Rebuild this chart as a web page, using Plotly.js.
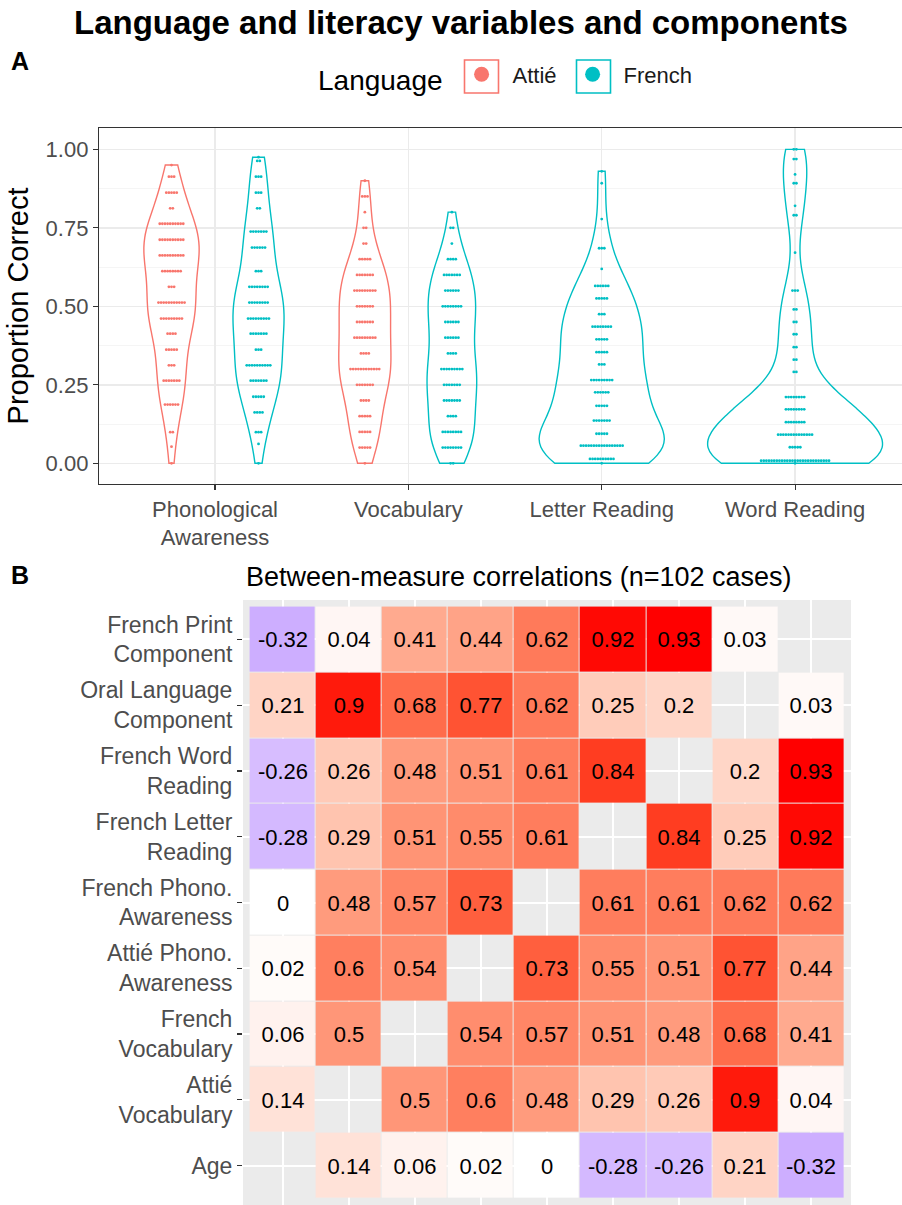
<!DOCTYPE html>
<html><head><meta charset="utf-8">
<script src="https://cdn.plot.ly/plotly-3.0.1.min.js"></script>
<style>html,body{margin:0;padding:0;background:#fff}</style>
</head><body><div id="chart" style="width:902px;height:1205px"></div>
<script>
// ---------- Panel A data ----------
const categories = ['Phonological Awareness', 'Vocabulary', 'Letter Reading', 'Word Reading'];
const categoryTicks = ['Phonological<br>Awareness', 'Vocabulary', 'Letter Reading', 'Word Reading'];
const languages = ['Attié', 'French'];
const languageColors = ['#F8766D', '#00BFC4'];

// proportion-correct levels and number of children at each level (read from the dot stacks)
const attiePAValues = [0, 0.053, 0.099, 0.187, 0.263, 0.312, 0.362, 0.413, 0.461, 0.512, 0.562, 0.612, 0.662, 0.712, 0.763, 0.812, 0.862, 0.913, 0.95];
const attiePACounts = [1, 1, 2, 6, 7, 3, 5, 4, 9, 11, 3, 8, 10, 10, 10, 2, 5, 3, 1];

const frenchPAValues = [0, 0.0615, 0.099, 0.162, 0.212, 0.263, 0.312, 0.362, 0.413, 0.461, 0.512, 0.562, 0.612, 0.687, 0.738, 0.812, 0.862, 0.913, 0.963, 0.975];
const frenchPACounts = [1, 1, 3, 4, 5, 7, 10, 3, 7, 9, 8, 8, 3, 6, 7, 2, 3, 3, 2, 1];

const attieVocabValues = [0, 0.05, 0.10, 0.15, 0.20, 0.25, 0.30, 0.35, 0.40, 0.45, 0.50, 0.55, 0.60, 0.65, 0.70, 0.75, 0.80, 0.85, 0.90];
const attieVocabCounts = [1, 5, 5, 5, 4, 7, 12, 4, 9, 7, 7, 9, 7, 5, 2, 2, 1, 3, 1];

const frenchVocabValues = [0, 0.05, 0.10, 0.15, 0.20, 0.25, 0.30, 0.35, 0.40, 0.45, 0.50, 0.55, 0.60, 0.65, 0.70, 0.75, 0.80];
const frenchVocabCounts = [2, 8, 8, 4, 7, 7, 9, 4, 6, 6, 8, 6, 7, 4, 1, 2, 1];

const frenchLetterValues = [0, 0.014, 0.056, 0.094, 0.136, 0.183, 0.226, 0.265, 0.315, 0.354, 0.395, 0.435, 0.475, 0.525, 0.565, 0.619, 0.685, 0.778, 0.892, 0.93];
const frenchLetterCounts = [1, 10, 17, 5, 7, 5, 6, 9, 3, 5, 5, 8, 3, 5, 6, 1, 3, 1, 1, 1];

const frenchWordValues = [0, 0.008, 0.051, 0.091, 0.131, 0.172, 0.211, 0.291, 0.33, 0.37, 0.411, 0.45, 0.49, 0.55, 0.671, 0.79, 0.82, 0.892, 0.92, 0.969, 1.0];
const frenchWordCounts = [1, 27, 5, 14, 8, 8, 8, 2, 2, 2, 2, 2, 2, 3, 1, 2, 1, 2, 1, 2, 2];

// ---------- Panel B data ----------
const measures = ['Age', 'Attié Vocabulary', 'French Vocabulary', 'Attié Phono. Awareness', 'French Phono. Awareness',
  'French Letter Reading', 'French Word Reading', 'Oral Language Component', 'French Print Component'];
const measureTicks = ['Age', 'Attié<br>Vocabulary', 'French<br>Vocabulary', 'Attié Phono.<br>Awareness', 'French Phono.<br>Awareness',
  'French Letter<br>Reading', 'French Word<br>Reading', 'Oral Language<br>Component', 'French Print<br>Component'];
const corAge          = [null, 0.14, 0.06, 0.02, 0, -0.28, -0.26, 0.21, -0.32];
const corAttieVocab   = [0.14, null, 0.5, 0.6, 0.48, 0.29, 0.26, 0.9, 0.04];
const corFrenchVocab  = [0.06, 0.5, null, 0.54, 0.57, 0.51, 0.48, 0.68, 0.41];
const corAttiePhono   = [0.02, 0.6, 0.54, null, 0.73, 0.55, 0.51, 0.77, 0.44];
const corFrenchPhono  = [0, 0.48, 0.57, 0.73, null, 0.61, 0.61, 0.62, 0.62];
const corFrenchLetter = [-0.28, 0.29, 0.51, 0.55, 0.61, null, 0.84, 0.25, 0.92];
const corFrenchWord   = [-0.26, 0.26, 0.48, 0.51, 0.61, 0.84, null, 0.2, 0.93];
const corOralLang     = [0.21, 0.9, 0.68, 0.77, 0.62, 0.25, 0.2, null, 0.03];
const corFrenchPrint  = [-0.32, 0.04, 0.41, 0.44, 0.62, 0.92, 0.93, 0.03, null];

// ---------- helpers ----------
const FONT = 'Liberation Sans, Arial, Helvetica, sans-serif';
const W = 902, H = 1205;
const px = v => v / W;            // horizontal pixel -> paper
const py = v => 1 - v / H;        // vertical pixel -> paper

function expand(values, counts) {
  const out = [];
  values.forEach((v, i) => { for (let k = 0; k < counts[i]; k++) out.push(v); });
  return out;
}
function q7(s, p) { const h = (s.length - 1) * p, lo = Math.floor(h); const hi = Math.min(lo + 1, s.length - 1); return s[lo] + (h - lo) * (s[hi] - s[lo]); }
function bwNrd0(x) { // R's default bandwidth
  const n = x.length, m = x.reduce((a, b) => a + b, 0) / n;
  const sd = Math.sqrt(x.reduce((a, b) => a + (b - m) * (b - m), 0) / (n - 1));
  const s = [...x].sort((a, b) => a - b);
  let lo = Math.min(sd, (q7(s, 0.75) - q7(s, 0.25)) / 1.34);
  if (!lo) lo = sd || Math.abs(x[0]) || 1;
  return 0.9 * lo * Math.pow(n, -0.2);
}

const violinSets = [
  { lang: 0, cat: 0, values: attiePAValues, counts: attiePACounts },
  { lang: 0, cat: 1, values: attieVocabValues, counts: attieVocabCounts },
  { lang: 1, cat: 0, values: frenchPAValues, counts: frenchPACounts },
  { lang: 1, cat: 1, values: frenchVocabValues, counts: frenchVocabCounts },
  { lang: 1, cat: 2, values: frenchLetterValues, counts: frenchLetterCounts },
  { lang: 1, cat: 3, values: frenchWordValues, counts: frenchWordCounts }
];
const dodgeWidth = 0.9;
const langsAt = cat => violinSets.filter(s => s.cat === cat).map(s => s.lang).sort();

const traces = [];
violinSets.forEach(s => {
  const ys = expand(s.values, s.counts);
  const paired = langsAt(s.cat).length > 1;
  traces.push({
    type: 'violin', xaxis: 'x', yaxis: 'y',
    x: ys.map(() => s.cat), y: ys,
    name: languages[s.lang], legendgroup: languages[s.lang], showlegend: false,
    offsetgroup: languages[s.lang], alignmentgroup: paired ? 'paired' : 'single',
    scalegroup: 'all', scalemode: 'width', spanmode: 'hard',
    bandwidth: bwNrd0(ys), points: false,
    line: { color: languageColors[s.lang], width: 1.4 },
    fillcolor: 'rgba(0,0,0,0)', hoverinfo: 'skip'
  });
});

// stacked dots (centred stacks)
const pitch = 0.0135;
languages.forEach((lang, li) => {
  const xs = [], ys = [];
  violinSets.filter(s => s.lang === li).forEach(s => {
    const present = langsAt(s.cat);
    const m = present.length, k = present.indexOf(li);
    const off = (k - (m - 1) / 2) * dodgeWidth / m;
    s.values.forEach((v, i) => {
      const c = s.counts[i];
      for (let j = 0; j < c; j++) { xs.push(s.cat + off + (j - (c - 1) / 2) * pitch); ys.push(v); }
    });
  });
  traces.push({
    type: 'scatter', mode: 'markers', xaxis: 'x', yaxis: 'y',
    x: xs, y: ys, name: lang, legendgroup: lang, showlegend: false,
    marker: { color: languageColors[li], size: 2.8, line: { width: 0 } }, hoverinfo: 'skip'
  });
});
// legend keys (no data of their own)
languages.forEach((lang, li) => {
  traces.push({
    type: 'scatter', mode: 'markers', xaxis: 'x', yaxis: 'y',
    x: [null], y: [null], name: lang, legendgroup: lang, showlegend: true,
    marker: { color: languageColors[li], size: 15 }, hoverinfo: 'skip'
  });
});

// ---------- colour scale: gradient2 blue-white-red interpolated in Lab ----------
function toLin(c) { c /= 255; return c <= 0.04045 ? c / 12.92 : Math.pow((c + 0.055) / 1.055, 2.4); }
function fromLin(c) { const v = c <= 0.0031308 ? 12.92 * c : 1.055 * Math.pow(c, 1 / 2.4) - 0.055; return Math.round(Math.max(0, Math.min(1, v)) * 255); }
const Xn = 0.95047, Yn = 1, Zn = 1.08883;
function rgb2lab([r, g, b]) {
  r = toLin(r); g = toLin(g); b = toLin(b);
  const X = (0.4124564 * r + 0.3575761 * g + 0.1804375 * b) / Xn;
  const Y = (0.2126729 * r + 0.7151522 * g + 0.0721750 * b) / Yn;
  const Z = (0.0193339 * r + 0.1191920 * g + 0.9503041 * b) / Zn;
  const f = t => t > 0.008856 ? Math.cbrt(t) : 7.787 * t + 16 / 116;
  const fx = f(X), fy = f(Y), fz = f(Z);
  return [116 * fy - 16, 500 * (fx - fy), 200 * (fy - fz)];
}
function lab2rgb([L, a, b]) {
  const fy = (L + 16) / 116, fx = fy + a / 500, fz = fy - b / 200;
  const fi = t => t > 0.206893 ? t * t * t : (t - 16 / 116) / 7.787;
  const X = fi(fx) * Xn, Y = fi(fy) * Yn, Z = fi(fz) * Zn;
  const r = 3.2404542 * X - 1.5371385 * Y - 0.4985314 * Z;
  const g = -0.9692660 * X + 1.8760108 * Y + 0.0415560 * Z;
  const bb = 0.0556434 * X - 0.2040259 * Y + 1.0572252 * Z;
  return `rgb(${fromLin(r)},${fromLin(g)},${fromLin(bb)})`;
}
const lowLab = rgb2lab([0, 0, 255]), midLab = rgb2lab([255, 255, 255]), highLab = rgb2lab([255, 0, 0]);
const colorscale = [];
const NSTEP = 40;
for (let i = 0; i <= NSTEP; i++) {
  const t = i / NSTEP;
  const v = 2 * t - 1;
  const a = v < 0 ? lowLab : highLab, u = Math.abs(v);
  colorscale.push([t, lab2rgb([0, 1, 2].map(k => midLab[k] + (a[k] - midLab[k]) * u))]);
}

const corRows = [corAge, corAttieVocab, corFrenchVocab, corAttiePhono, corFrenchPhono, corFrenchLetter, corFrenchWord, corOralLang, corFrenchPrint];
// midpoint 0, extent = largest absolute correlation (ggplot gradient2 default)
const zExt = Math.max(...corRows.flat().filter(v => v !== null).map(Math.abs));
traces.push({
  type: 'heatmap', xaxis: 'x2', yaxis: 'y2',
  x: measures, y: measures, z: corRows,
  text: corRows.map(r => r.map(v => v === null ? '' : String(v))),
  texttemplate: '%{text}', textfont: { family: FONT, size: 22, color: '#000000' },
  colorscale: colorscale, zmin: -zExt, zmax: zExt, showscale: false,
  xgap: 1, ygap: 1, hoverinfo: 'skip'
});

// ---------- layout ----------
const legendBox = (cx, color) => ({
  type: 'rect', xref: 'paper', yref: 'paper', x0: px(cx - 17), x1: px(cx + 17), y0: py(93), y1: py(60),
  line: { color: color, width: 1.6 }, fillcolor: 'rgba(0,0,0,0)', layer: 'above'
});

const layout = {
  width: W, height: H,
  margin: { l: 0, r: 0, t: 0, b: 0 },
  paper_bgcolor: '#ffffff', plot_bgcolor: 'rgba(0,0,0,0)',
  font: { family: FONT, color: '#000000' },
  title: { text: '<b>Language and literacy variables and components</b>', x: px(461), xanchor: 'center', y: py(22), yanchor: 'middle', font: { size: 33, family: FONT, color: '#000' } },
  violinmode: 'group', violingap: 0.1, violingroupgap: 0,
  showlegend: true,
  legend: {
    orientation: 'h', x: px(316), xanchor: 'left', y: py(77), yanchor: 'middle',
    title: { text: 'Language', side: 'left', font: { size: 28, family: FONT, color: '#000' } },
    font: { size: 22, family: FONT, color: '#1a1a1a' }, itemsizing: 'trace', itemwidth: 52,
    bgcolor: 'rgba(0,0,0,0)'
  },
  xaxis: {
    type: 'linear', domain: [px(99), 1], anchor: 'y', range: [-0.6, 3.553],
    tickvals: categories.map((c, i) => i), ticktext: categoryTicks,
    ticks: 'outside', ticklen: 5, tickcolor: '#333333', tickwidth: 1.1,
    tickfont: { size: 22, color: '#4d4d4d', family: FONT },
    showline: true, mirror: true, linecolor: '#333333', linewidth: 1.2,
    showgrid: true, gridcolor: '#EBEBEB', gridwidth: 1.5, zeroline: false, automargin: false
  },
  yaxis: {
    domain: [py(484), py(128)], anchor: 'x', range: [-0.066, 1.068],
    tickvals: [0, 0.25, 0.5, 0.75, 1], tickformat: '.2f',
    ticks: 'outside', ticklen: 5, tickcolor: '#333333', tickwidth: 1.1,
    tickfont: { size: 22, color: '#4d4d4d', family: FONT },
    showline: true, mirror: false, linecolor: '#333333', linewidth: 1.2,
    showgrid: true, gridcolor: '#EBEBEB', gridwidth: 1.5, zeroline: false,
    minor: { tickvals: [0.125, 0.375, 0.625, 0.875], showgrid: true, gridcolor: '#F3F3F3', gridwidth: 0.8, ticks: '' },
    title: { text: 'Proportion Correct', font: { size: 29, color: '#000', family: FONT }, standoff: 8 },
    automargin: false
  },
  xaxis2: {
    domain: [px(243), px(851)], anchor: 'y2', type: 'category',
    categoryorder: 'array', categoryarray: measures, range: [-0.6, 8.6],
    showticklabels: false, ticks: '', showline: false,
    showgrid: true, gridcolor: '#ffffff', gridwidth: 2, zeroline: false, automargin: false
  },
  yaxis2: {
    domain: [0, py(600)], anchor: 'x2', type: 'category',
    categoryorder: 'array', categoryarray: measures, range: [-0.6, 8.6],
    tickvals: measures, ticktext: measureTicks,
    ticks: 'outside', ticklen: 5, tickcolor: '#333333', tickwidth: 1.1,
    tickfont: { size: 23, color: '#4d4d4d', family: FONT },
    showline: false, showgrid: true, gridcolor: '#ffffff', gridwidth: 2, zeroline: false, automargin: false
  },
  shapes: [
    { type: 'rect', xref: 'x2 domain', yref: 'y2 domain', x0: 0, x1: 1, y0: 0, y1: 1, fillcolor: '#EBEBEB', line: { width: 0 }, layer: 'below' },
    legendBox(481.5, languageColors[0]),
    legendBox(593.5, languageColors[1])
  ],
  annotations: [
    { text: '<b>A</b>', xref: 'paper', yref: 'paper', x: px(9), y: py(61), xanchor: 'left', yanchor: 'middle', showarrow: false, font: { size: 25, family: FONT, color: '#000' } },
    { text: '<b>B</b>', xref: 'paper', yref: 'paper', x: px(9), y: py(575), xanchor: 'left', yanchor: 'middle', showarrow: false, font: { size: 25, family: FONT, color: '#000' } },
    { text: 'Between-measure correlations (n=102 cases)', xref: 'paper', yref: 'paper', x: px(519), y: py(577), xanchor: 'center', yanchor: 'middle', showarrow: false, font: { size: 27, family: FONT, color: '#000' } }
  ]
};

Plotly.newPlot('chart', traces, layout, { displayModeBar: false, staticPlot: true });
</script></body></html>
